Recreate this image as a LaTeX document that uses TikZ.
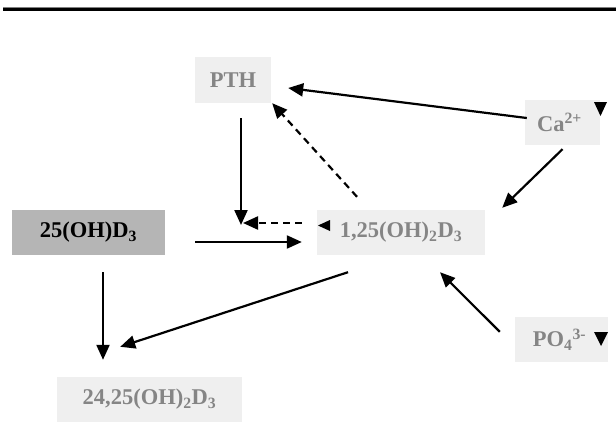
\documentclass[tikz,border=0pt]{standalone}
\usepackage{fontspec}
\setmainfont{Liberation Serif}
\usetikzlibrary{arrows.meta,calc}
\definecolor{boxgrey}{HTML}{EFEFEF}
\definecolor{darkbox}{HTML}{B5B5B5}
\definecolor{txtgrey}{HTML}{858585}
\begin{document}
\begin{tikzpicture}[x=1pt,y=-1pt,
  lbox/.style={fill=boxgrey,draw=none,inner sep=0pt,text=txtgrey,font=\fontsize{22.5}{26}\selectfont\bfseries},
  dbox/.style={fill=darkbox,draw=none,inner sep=0pt,text=black,font=\fontsize{22.5}{26}\selectfont\bfseries},
  conn/.style={line width=2.2pt,-{Triangle[length=15pt,width=13pt]}},
  dconn/.style={conn,dash pattern=on 7pt off 5pt}]
\useasboundingbox (0,0) rectangle (616,434);
\fill[white] (0,0) rectangle (616,434);
% top rule
\draw[line width=4.5pt,gray] (3,9) -- (616,9);
\draw[line width=3pt,black] (3,9) -- (616,9);
% nodes
\node[lbox,minimum width=76,minimum height=46] (pth) at (233,80) {PTH};
\node[lbox,minimum width=75,minimum height=45] (ca) at (562.5,122.5) {\hspace*{-6pt}\raisebox{-2pt}{Ca\textsuperscript{2+}}};
\node[dbox,minimum width=153,minimum height=45] (d25) at (88.5,232.5) {\raisebox{-2pt}{25(OH)D\textsubscript{3}}};
\node[lbox,minimum width=168,minimum height=45] (d125) at (401,232.5) {\raisebox{-3pt}{1,25(OH)\textsubscript{2}D\textsubscript{3}}};
\node[lbox,minimum width=93,minimum height=45] (po4) at (561.5,339.5) {\hspace*{-4pt}PO\textsubscript{4}\textsuperscript{3-}};
\node[lbox,minimum width=185,minimum height=45] (d2425) at (149.5,399.5) {\raisebox{-2pt}{24,25(OH)\textsubscript{2}D\textsubscript{3}}};
% small markers
\fill (594,102) -- (607,102) -- (600.5,116) -- cycle;
\fill (594,332) -- (608,332) -- (601,346) -- cycle;
\fill (330,220) -- (330,231) -- (318,225.5) -- cycle;
% junction
\coordinate (j) at (241,225);
\coordinate (jd) at (243,223);
% connectors
\draw[conn] ([shift={(2,-4.5)}]ca.west) -- ([shift={(17,8)}]pth.east);
\draw[conn] ([shift={(0,4)}]ca.south) -- ([shift={(17,-2)}]d125.north east);
\draw[conn] ([shift={(8,15)}]pth.south) -- (j);
\draw[dconn] ([shift={(-44,-13)}]d125.north) -- ([shift={(1,0)}]pth.south east);
\draw[dconn] ([shift={(-15,-9.5)}]d125.west) -- (jd);
\draw[conn] ([shift={(30,9.5)}]d25.east) -- ([shift={(-15,9.5)}]d125.west);
\draw[conn] ([shift={(14.5,17)}]d25.south) -- ([shift={(-46.5,-17)}]d2425.north);
\draw[conn] ([shift={(-53,17)}]d125.south) -- ([shift={(-122,-30)}]d2425.north east);
\draw[conn] ([shift={(-15,15)}]po4.north west) -- ([shift={(39,17)}]d125.south);
\end{tikzpicture}
\end{document}
